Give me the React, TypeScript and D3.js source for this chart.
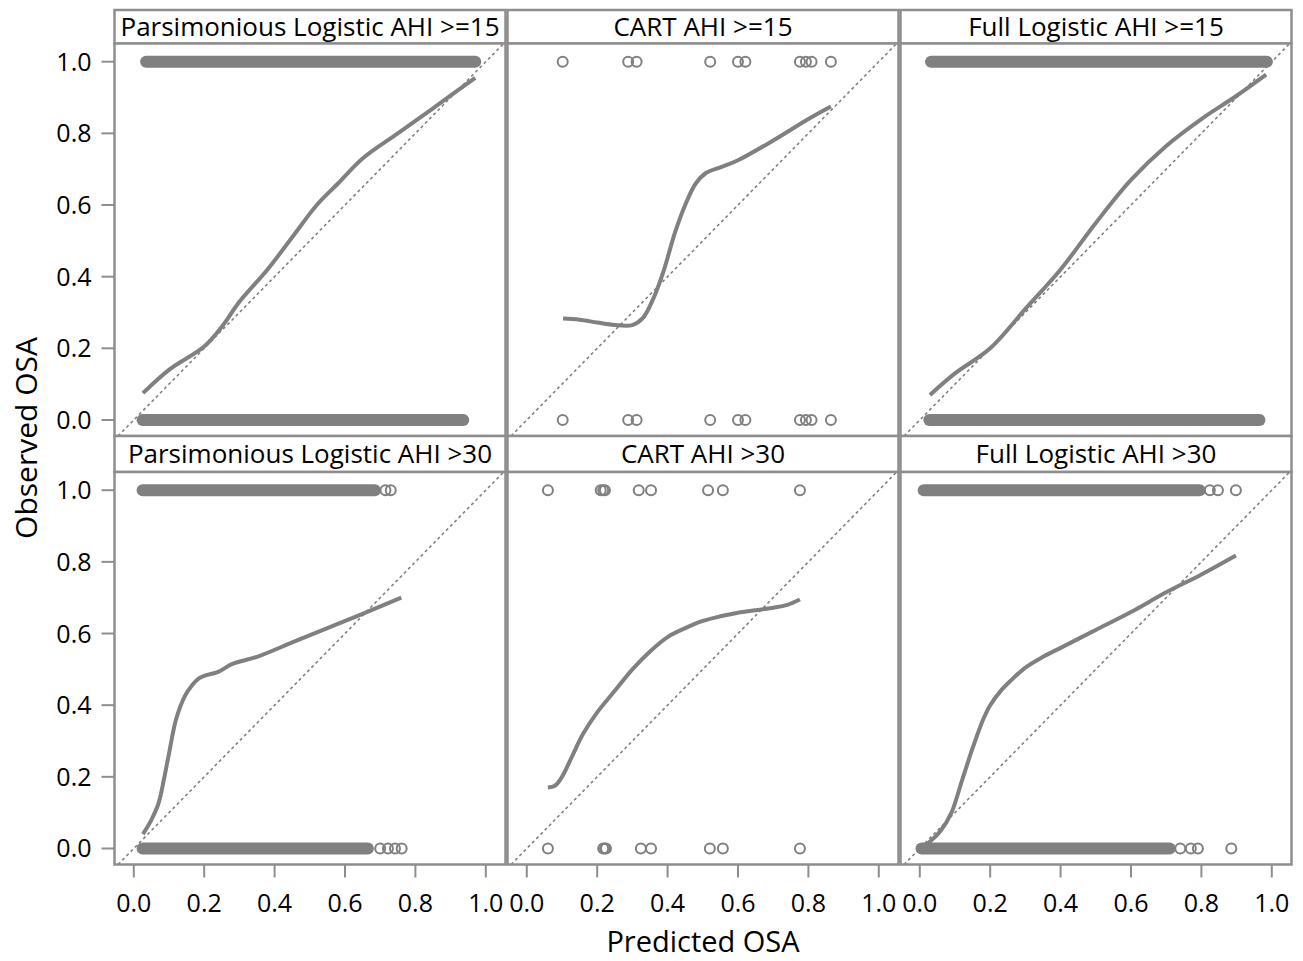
import React from "react";
import * as d3 from "d3";

// ---------- data ----------
const panelTitles = [
  "Parsimonious Logistic AHI >=15",
  "CART AHI >=15",
  "Full Logistic AHI >=15",
  "Parsimonious Logistic AHI >30",
  "CART AHI >30",
  "Full Logistic AHI >30",
];

const xTicks = [0, 0.2, 0.4, 0.6, 0.8, 1.0];
const yTicks = [0, 0.2, 0.4, 0.6, 0.8, 1.0];

// dense (overlapping) marker runs: [first predicted, last predicted] at observed=1 / observed=0
const denseObs1: ([number, number] | null)[] = [
  [0.035, 0.97],
  null,
  [0.032, 0.986],
  [0.025, 0.685],
  null,
  [0.011, 0.795],
];
const denseObs0: ([number, number] | null)[] = [
  [0.025, 0.936],
  null,
  [0.027, 0.965],
  [0.025, 0.665],
  null,
  [0.005, 0.71],
];

// individual markers (predicted values) at observed=1 / observed=0
const sparseObs1: number[][] = [
  [],
  [0.102, 0.288, 0.312, 0.521, 0.6, 0.621, 0.776, 0.793, 0.809, 0.864],
  [],
  [0.715, 0.73],
  [0.06, 0.21, 0.217, 0.222, 0.318, 0.353, 0.515, 0.557, 0.776],
  [0.824, 0.847, 0.898],
];
const sparseObs0: number[][] = [
  [],
  [0.102, 0.288, 0.312, 0.521, 0.6, 0.621, 0.776, 0.793, 0.809, 0.864],
  [],
  [0.7, 0.722, 0.742, 0.761],
  [0.06, 0.217, 0.222, 0.225, 0.324, 0.353, 0.52, 0.557, 0.776],
  [0.74, 0.77, 0.79, 0.885],
];

// smoothed calibration curves [predicted, observed]
const curve1: [number, number][] = [
  [0.026, 0.075], [0.1, 0.14], [0.2, 0.205], [0.25, 0.26], [0.3, 0.33],
  [0.38, 0.42], [0.45, 0.51], [0.52, 0.6], [0.58, 0.66], [0.65, 0.73],
  [0.75, 0.8], [0.85, 0.87], [0.97, 0.955],
];
const curve2: [number, number][] = [
  [0.103, 0.283], [0.15, 0.28], [0.2, 0.272], [0.25, 0.265], [0.3, 0.265],
  [0.33, 0.285], [0.36, 0.34], [0.39, 0.42], [0.42, 0.52], [0.45, 0.6],
  [0.48, 0.66], [0.51, 0.69], [0.55, 0.705], [0.6, 0.725], [0.7, 0.78],
  [0.8, 0.84], [0.864, 0.875],
];
const curve3: [number, number][] = [
  [0.029, 0.07], [0.1, 0.13], [0.2, 0.2], [0.3, 0.31], [0.4, 0.42],
  [0.5, 0.55], [0.6, 0.67], [0.7, 0.765], [0.8, 0.84], [0.9, 0.905],
  [0.984, 0.964],
];
const curve4: [number, number][] = [
  [0.026, 0.04], [0.05, 0.08], [0.07, 0.125], [0.085, 0.19], [0.1, 0.265],
  [0.12, 0.36], [0.145, 0.425], [0.165, 0.455], [0.185, 0.475], [0.2, 0.482],
  [0.24, 0.493], [0.28, 0.515], [0.35, 0.535], [0.45, 0.575], [0.55, 0.615],
  [0.65, 0.655], [0.76, 0.7],
];
const curve5: [number, number][] = [
  [0.06, 0.17], [0.08, 0.175], [0.1, 0.2], [0.13, 0.26], [0.16, 0.32],
  [0.2, 0.38], [0.25, 0.44], [0.3, 0.5], [0.35, 0.55], [0.4, 0.59],
  [0.45, 0.615], [0.5, 0.635], [0.55, 0.648], [0.6, 0.658], [0.65, 0.665],
  [0.7, 0.672], [0.74, 0.68], [0.776, 0.695],
];
const curve6: [number, number][] = [
  [0.0, 0.0], [0.03, 0.02], [0.06, 0.05], [0.09, 0.1], [0.12, 0.19],
  [0.15, 0.28], [0.18, 0.36], [0.2, 0.4], [0.23, 0.44], [0.26, 0.47],
  [0.3, 0.505], [0.35, 0.535], [0.4, 0.56], [0.5, 0.61], [0.6, 0.66],
  [0.7, 0.715], [0.8, 0.765], [0.898, 0.818],
];
const curves = [curve1, curve2, curve3, curve4, curve5, curve6];

// ---------- layout ----------
const W = 1303;
const H = 961;
const colLefts = [114.5, 507.5, 900.5];
const panelW = 391;
const rowHeaderTops = [10, 436];
const headerH = [33.5, 36];
const plotH = 392.5;
const GRAY = "#808080";
const BORDER = "#8e8e8e";
const FONT = "'Open Sans', 'Noto Sans', sans-serif";

const x = d3.scaleLinear().domain([-0.0548, 1.056]).range([0, panelW]);
const y = d3.scaleLinear().domain([-0.0447, 1.0508]).range([plotH, 0]);

const line = d3
  .line<[number, number]>()
  .x((d) => x(d[0]))
  .y((d) => y(d[1]))
  .curve(d3.curveCatmullRom.alpha(0.5));

function Panel({ idx }: { idx: number }) {
  const col = idx % 3;
  const row = Math.floor(idx / 3);
  const left = colLefts[col];
  const hTop = rowHeaderTops[row];
  const pTop = hTop + headerH[row];
  const clipId = `clip${idx}`;
  const d1 = denseObs1[idx];
  const d0 = denseObs0[idx];
  return (
    <g>
      <rect
        x={left}
        y={hTop}
        width={panelW}
        height={headerH[row]}
        fill="#fff"
        stroke={BORDER}
        strokeWidth={2.5}
      />
      <text
        x={left + panelW / 2}
        y={hTop + headerH[row] / 2 + 9}
        textAnchor="middle"
        fontFamily={FONT}
        fontSize={26}
        fill="#000"
      >
        {panelTitles[idx]}
      </text>
      <g transform={`translate(${left},${pTop})`}>
        <defs>
          <clipPath id={clipId}>
            <rect x={0} y={0} width={panelW} height={plotH} />
          </clipPath>
        </defs>
        <rect x={0} y={0} width={panelW} height={plotH} fill="#fff" />
        <g clipPath={`url(#${clipId})`}>
          <line
            x1={x(-0.2)}
            y1={y(-0.2)}
            x2={x(1.2)}
            y2={y(1.2)}
            stroke={GRAY}
            strokeWidth={1.6}
            strokeDasharray="3 3"
          />
          {d1 && (
            <line
              x1={x(d1[0])}
              x2={x(d1[1])}
              y1={y(1)}
              y2={y(1)}
              stroke={GRAY}
              strokeWidth={12}
              strokeLinecap="round"
            />
          )}
          {d0 && (
            <line
              x1={x(d0[0])}
              x2={x(d0[1])}
              y1={y(0)}
              y2={y(0)}
              stroke={GRAY}
              strokeWidth={12}
              strokeLinecap="round"
            />
          )}
          {sparseObs1[idx].map((v, i) => (
            <circle
              key={`a${i}`}
              cx={x(v)}
              cy={y(1)}
              r={5}
              fill="none"
              stroke={GRAY}
              strokeWidth={2}
            />
          ))}
          {sparseObs0[idx].map((v, i) => (
            <circle
              key={`b${i}`}
              cx={x(v)}
              cy={y(0)}
              r={5}
              fill="none"
              stroke={GRAY}
              strokeWidth={2}
            />
          ))}
          <path
            d={line(curves[idx]) || ""}
            fill="none"
            stroke={GRAY}
            strokeWidth={4}
          />
        </g>
        <rect
          x={0}
          y={0}
          width={panelW}
          height={plotH}
          fill="none"
          stroke={BORDER}
          strokeWidth={2.5}
        />
        {col === 0 &&
          yTicks.map((t) => (
            <g key={t} transform={`translate(0,${y(t)})`}>
              <line x1={-13} x2={0} stroke={BORDER} strokeWidth={2} />
              <text
                x={-23}
                y={9}
                textAnchor="end"
                fontFamily={FONT}
                fontSize={25}
                fill="#000"
              >
                {t.toFixed(1)}
              </text>
            </g>
          ))}
        {row === 1 &&
          xTicks.map((t) => (
            <g key={t} transform={`translate(${x(t)},${plotH})`}>
              <line y1={0} y2={13} stroke={BORDER} strokeWidth={2} />
              <text
                y={47.5}
                textAnchor="middle"
                fontFamily={FONT}
                fontSize={25}
                fill="#000"
              >
                {t.toFixed(1)}
              </text>
            </g>
          ))}
      </g>
    </g>
  );
}

export default function App() {
  return (
    <svg
      width={W}
      height={H}
      style={{ position: "absolute", left: 0, top: 0, background: "#fff" }}
    >
      <rect x={0} y={0} width={W} height={H} fill="#fff" />
      {panelTitles.map((_, i) => (
        <Panel key={i} idx={i} />
      ))}
      <text
        transform="translate(37,438) rotate(-90)"
        textAnchor="middle"
        fontFamily={FONT}
        fontSize={30}
        fill="#000"
      >
        Observed OSA
      </text>
      <text
        x={703}
        y={952}
        textAnchor="middle"
        fontFamily={FONT}
        fontSize={29}
        fill="#000"
      >
        Predicted OSA
      </text>
    </svg>
  );
}
